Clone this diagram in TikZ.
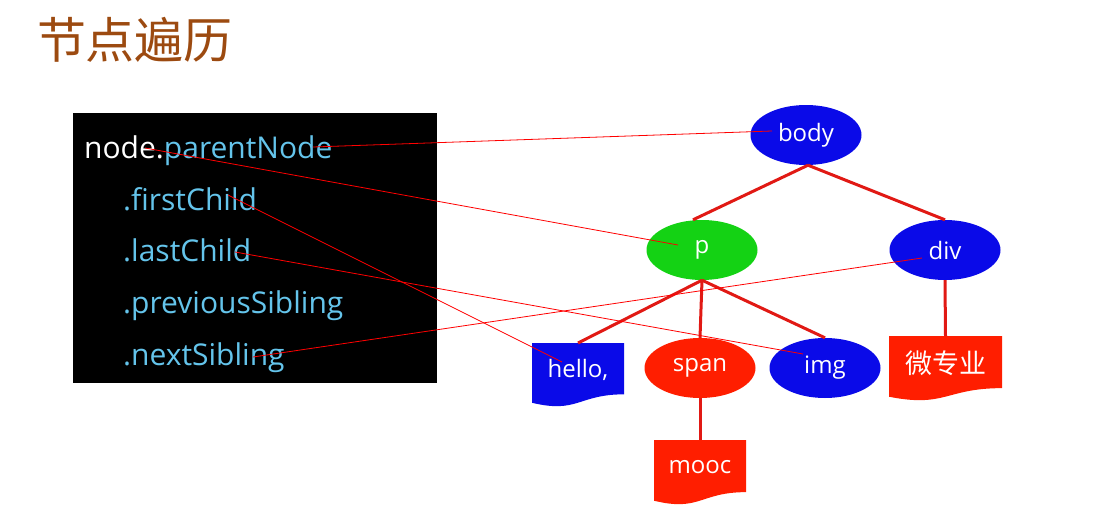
\documentclass[tikz,border=0pt]{standalone}
\usepackage{fontspec}
\setmainfont{Open Sans}
\newfontfamily\cjk{Noto Sans CJK SC}
\usetikzlibrary{shapes.geometric}
\definecolor{treeblue}{RGB}{10,10,232}
\definecolor{treered}{RGB}{255,30,0}
\definecolor{treegreen}{RGB}{20,210,20}
\definecolor{edgered}{RGB}{225,25,20}
\definecolor{lb}{RGB}{100,196,235}
\definecolor{titlebrown}{RGB}{156,74,16}
\newcommand\docshape[7]{%
  \fill[#2] (#3,#5) -- (#4,#5) -- (#4,{#5+0.802*#6})
    .. controls ({(#3+#4)/2},{#5+0.802*#6}) and ({(#3+#4)/2},{#5+1.107*#6}) ..
    (#3,{#5+0.934*#6}) -- cycle;
  \coordinate (#1top) at ({(#3+#4)/2},#5);
  \node[doctext] (#1) at ({(#3+#4)/2},{#5+0.42*#6}) {#7};
}
\begin{document}
\begin{tikzpicture}[x=1pt,y=-1pt,
  ell/.style={ellipse, minimum width=111pt, minimum height=60pt, inner sep=0pt,
    text=white, font=\fontsize{24}{28}\selectfont},
  doctext/.style={inner sep=0pt, text=white, font=\fontsize{24}{28}\selectfont},
  edge/.style={draw=edgered, line width=3pt},
  link/.style={draw=red, line width=0.8pt},
  codeline/.style={anchor=base west, inner sep=0pt, text=lb,
    font=\fontsize{30}{36}\selectfont}]
\useasboundingbox (0,0) rectangle (1120,514);

% title
\node[anchor=center, inner sep=0pt, text=titlebrown,
  font=\cjk\fontsize{49}{56}\selectfont] (title) at (135,40) {节点遍历};

% code box
\fill[black] (73,113) rectangle (437,383);
\node[codeline] (l1) at (84,158) {\textcolor{white}{node.}parentNode};
\node[codeline] (l2) at (123,210) {.firstChild};
\node[codeline] (l3) at (123,261) {.lastChild};
\node[codeline] (l4) at (123,313) {.previousSibling};
\node[codeline] (l5) at (123,365) {.nextSibling};

% tree nodes
\node[ell, fill=treeblue] (body) at (806,135) {body};
\node[ell, fill=treegreen] (p) at (702,250) {p};
\node[ell, fill=treeblue] (div) at (945,250) {div};
\node[ell, fill=treered] (span) at (700,368) {span};
\node[ell, fill=treeblue] (img) at (825,368) {img};
\docshape{hello}{treeblue}{532}{624}{343}{64}{hello,}
\docshape{wzy}{treered}{889}{1002}{336}{65}{\cjk\fontsize{27}{30}\selectfont 微专业}
\docshape{mooc}{treered}{654}{746}{440}{65}{mooc}

% tree edges
\draw[edge] ([xshift=2pt]body.south) -- ([xshift=-9pt]p.north);
\draw[edge] ([xshift=2pt]body.south) -- (div.north);
\draw[edge] (p.south) -- (hellotop);
\draw[edge] (p.south) -- (span.north);
\draw[edge] (p.south) -- (img.north);
\draw[edge] (div.south) -- (wzytop);
\draw[edge] (span.south) -- (mooctop);

% link coordinates
\coordinate (pn) at (313,147);
\coordinate (nd) at (145,148);
\coordinate (fc) at (228,195);
\coordinate (lc) at (235,252);
\coordinate (ns) at (253,357);
\coordinate (tbody) at (772,131);
\coordinate (tp) at (678,245);
\coordinate (thello) at (562,362);
\coordinate (timg) at (803,354);
\coordinate (tdiv) at (922,258);

\draw[link] (pn) -- (tbody);
\draw[link] (nd) -- (tp);
\draw[link] (fc) -- (thello);
\draw[link] (lc) -- (timg);
\draw[link] (ns) -- (tdiv);
\end{tikzpicture}
\end{document}
